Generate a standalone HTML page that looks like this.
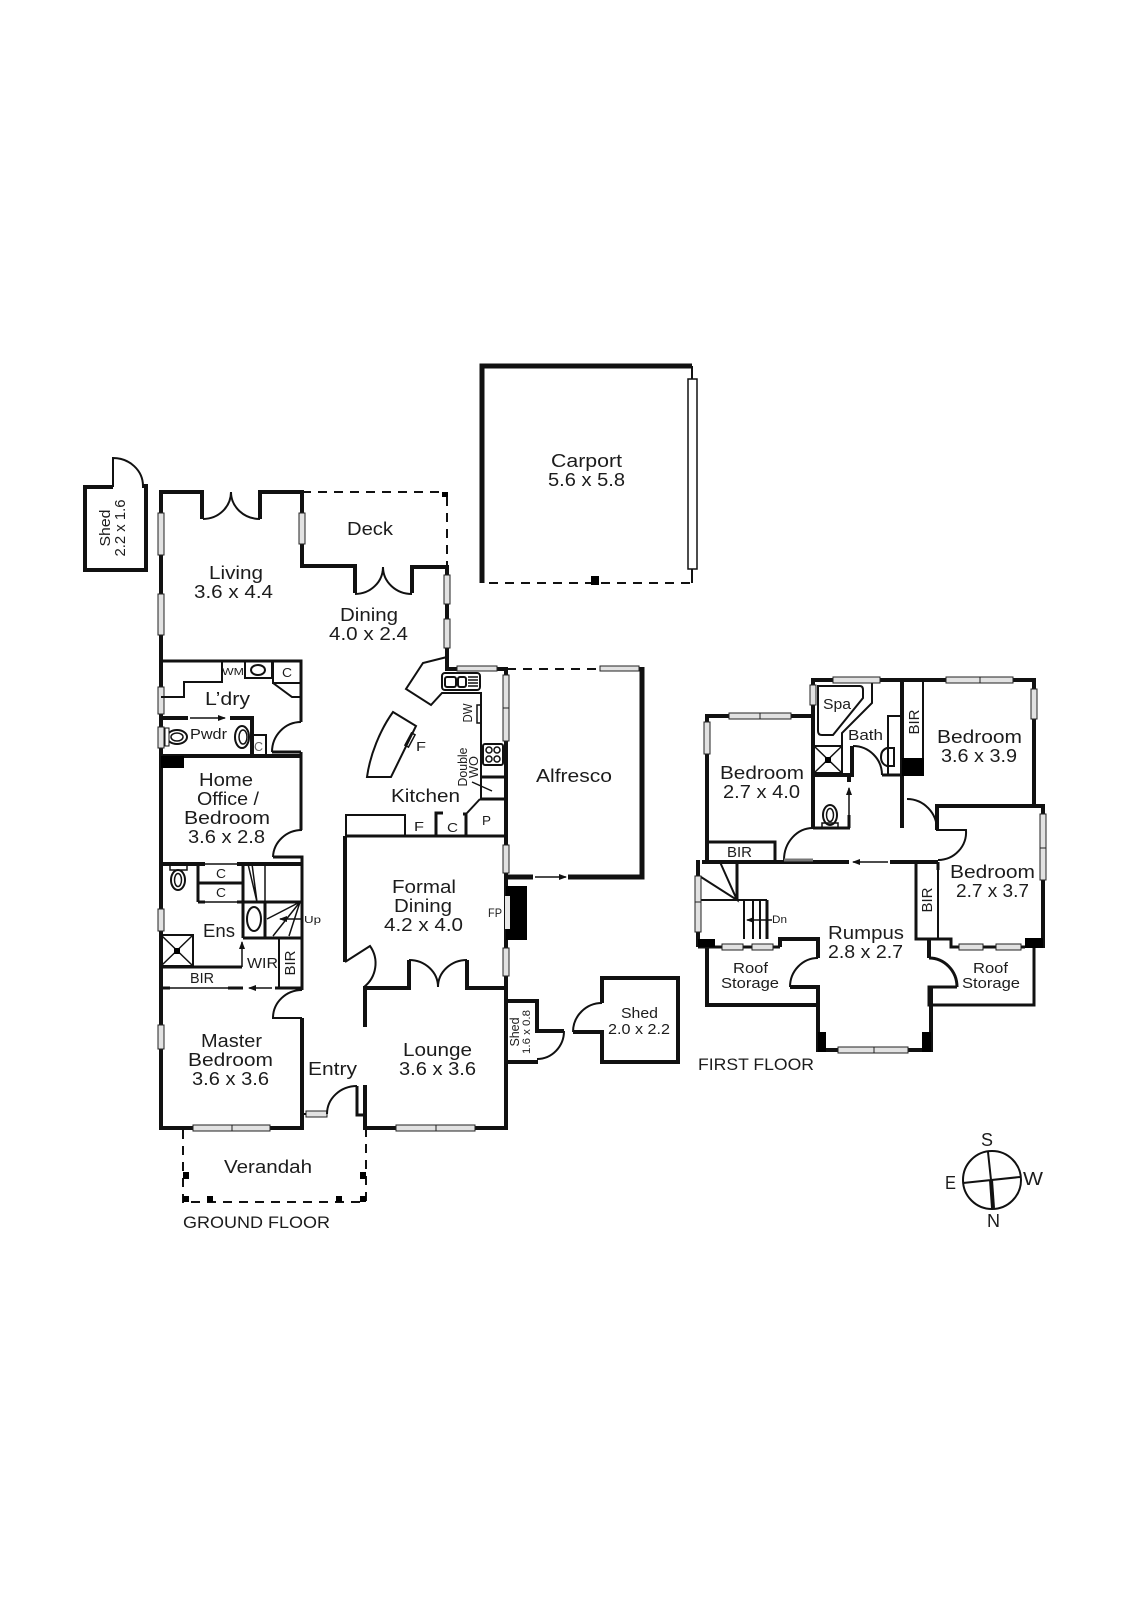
<!DOCTYPE html>
<html><head><meta charset="utf-8"><style>
html,body{margin:0;padding:0;background:#fff}
svg{display:block}
text{font-family:"Liberation Sans",sans-serif;fill:#1c1c1c;font-size:18px}
.s{font-size:15px}.x{font-size:13px}.xx{font-size:10px}
.w,.m,.t,.h{fill:none;stroke:#111}
.w{stroke-width:4}.m{stroke-width:3}.t{stroke-width:2}.h{stroke-width:1.5}
.d{fill:none;stroke:#111;stroke-width:2;stroke-dasharray:9 7}
.win{fill:#e2e2e2;stroke:#222;stroke-width:1}
.b{fill:#000}
</style></head><body>
<svg width="1131" height="1600" viewBox="0 0 1131 1600" xmlns="http://www.w3.org/2000/svg">
<defs>
<marker id="a" markerUnits="userSpaceOnUse" markerWidth="8" markerHeight="6" refX="7" refY="3" orient="auto"><path d="M0 0L8 3L0 6z" fill="#111"/></marker>
</defs>

<!-- Carport -->
<path class="w" style="stroke-width:5" d="M482 583V366H692"/>
<path class="t" d="M692 366V379M692 569V583"/>
<path class="d" d="M489 583H692"/>
<rect x="688" y="379" width="9" height="190" fill="#fff" stroke="#111" stroke-width="1.5"/>
<rect class="b" x="591" y="576" width="8" height="9"/>

<!-- Shed 2.2 x 1.6 -->
<path class="w" d="M113 487H85V570H146V486H142"/>
<path class="t" d="M113 487V458A30 28 0 0 1 143 486"/>

<!-- Ground: outer left, living -->
<path class="w" d="M161 1130V492H202V519M260 519V492H302V566H355V593M412 593V567H447V669H506V1128H365V1085M302 1018V1128H159"/>
<path class="t" d="M203 519A28 27 0 0 0 231 492M260 519A29 27 0 0 1 231 492M355 594A28 27 0 0 0 383 567M412 594A29 27 0 0 1 383 567"/>
<path class="d" d="M302 492H443M447 497V566M507 669H600"/>
<rect class="b" x="442" y="492" width="6" height="5"/>

<!-- Windows left wall -->
<rect class="win" x="158" y="513" width="6" height="42"/>
<rect class="win" x="158" y="594" width="6" height="41"/>
<rect class="win" x="158" y="687" width="6" height="27"/>
<rect class="win" x="158" y="727" width="6" height="21"/>
<rect class="win" x="158" y="909" width="6" height="22"/>
<rect class="win" x="158" y="1025" width="6" height="24"/>
<rect class="win" x="299" y="513" width="6" height="31"/>
<rect class="win" x="444" y="575" width="6" height="29"/>
<rect class="win" x="444" y="619" width="6" height="29"/>
<rect class="win" x="457" y="666" width="40" height="5"/>
<rect class="win" x="503" y="675" width="6" height="33"/>
<rect class="win" x="503" y="708" width="6" height="33"/>
<rect class="win" x="503" y="845" width="6" height="28"/>
<rect class="win" x="503" y="948" width="6" height="28"/>
<rect class="win" x="600" y="666" width="39" height="5"/>
<rect class="win" x="193" y="1125" width="39" height="6"/><rect class="win" x="232" y="1125" width="38" height="6"/>
<rect class="win" x="396" y="1125" width="40" height="6"/><rect class="win" x="436" y="1125" width="39" height="6"/>
<rect class="win" x="306" y="1111" width="21" height="6"/>

<!-- Alfresco -->
<path class="w" style="stroke-width:5" d="M642 667V877H568M533 877H506"/>
<path class="h" d="M535 877H566" marker-end="url(#a)"/>

<!-- Laundry -->
<path class="m" d="M161 661H301V722M272 752H301"/>
<path class="t" d="M301 722A29 30 0 0 0 272 752"/>
<path class="t" d="M222 661V682H184V697H161M245 661V678H272V661M273 661V683H301M273 683L292 697H301"/>
<ellipse cx="258" cy="670" rx="7" ry="5" class="t"/>
<text class="xx" x="222" y="675" textLength="22" lengthAdjust="spacingAndGlyphs">WM</text>
<text class="x" x="282" y="677" textLength="10" lengthAdjust="spacingAndGlyphs">C</text>
<text class="" x="205" y="705" textLength="45" lengthAdjust="spacingAndGlyphs">L’dry</text>
<path class="w" d="M161 718H188M230 718H252V756"/>
<path class="h" d="M190 718H225" marker-end="url(#a)"/>
<path class="w" d="M161 756H302"/>
<path class="t" d="M252 735H266V756"/>
<rect class="b" x="161" y="756" width="23" height="12"/>
<ellipse cx="177" cy="737" rx="10" ry="7" class="t"/><ellipse cx="177" cy="737" rx="6" ry="4" class="h"/>
<rect x="165" y="728" width="4" height="18" fill="#fff" stroke="#111"/>
<ellipse cx="242" cy="737" rx="7" ry="11" class="t"/><ellipse cx="243" cy="737" rx="4" ry="7" class="h"/>
<text class="s" x="190" y="739" textLength="37" lengthAdjust="spacingAndGlyphs">Pwdr</text>
<text class="x" x="254" y="751" textLength="9" lengthAdjust="spacingAndGlyphs" style="fill:#666">C</text>

<!-- Home office -->
<path class="m" d="M301 752V830M273 857H302V866"/>
<path class="t" d="M302 830A29 28 0 0 0 273 857"/>

<!-- Ens / WIR -->
<path class="w" d="M161 864H205M237 864H302"/>
<path class="h" d="M205 864H237"/>
<path class="m" d="M198 864V902M198 883H242M198 902H205M237 902H302M243 864V938M302 857V990M243 938H302M265 902V938"/>
<path class="h" d="M205 902H237M265 864V902M248 864L257 902M252 864L257 902"/>
<ellipse cx="254" cy="919" rx="7" ry="12" class="t"/>
<text class="x" x="216" y="878" textLength="10" lengthAdjust="spacingAndGlyphs">C</text>
<text class="x" x="216" y="897" textLength="10" lengthAdjust="spacingAndGlyphs">C</text>
<path class="h" d="M300 902L267 919M300 902L273 936M300 902L289 936"/>
<path class="h" d="M303 919H280" marker-end="url(#a)"/>
<text class="xx" x="304" y="923" textLength="17" lengthAdjust="spacingAndGlyphs">Up</text>
<rect x="161" y="935" width="32" height="31" class="t"/>
<path class="h" d="M161 935L193 966M193 935L161 966"/>
<rect class="b" x="174" y="948" width="6" height="6"/>
<text x="203" y="937" textLength="32" lengthAdjust="spacingAndGlyphs">Ens</text>
<ellipse cx="178" cy="880" rx="7" ry="10" class="t"/><ellipse cx="178" cy="880" rx="3.5" ry="6.5" class="h"/>
<rect x="170" y="865" width="17" height="5" fill="#fff" class="h"/>
<path class="m" d="M161 967H242"/>
<path class="h" d="M161 988H228"/>
<path class="h" d="M242 967V942" marker-end="url(#a)"/>
<path class="m" d="M228 988H243M161 988H170"/>
<path class="m" d="M275 988H302"/>
<path class="h" d="M272 988H249" marker-end="url(#a)"/>
<path class="t" d="M279 938V988"/>
<text class="x" x="190" y="983" textLength="24" lengthAdjust="spacingAndGlyphs" style="font-size:15px">BIR</text>
<text class="s" x="247" y="968" textLength="31" lengthAdjust="spacingAndGlyphs">WIR</text>
<text class="s" transform="rotate(-90 295 963)" x="295" y="963" text-anchor="middle" textLength="25" lengthAdjust="spacingAndGlyphs">BIR</text>

<!-- Master door -->
<path class="t" d="M302 990A29 28 0 0 0 273 1018H302"/>
<!-- Entry -->
<path class="t" d="M302 1114H306M327 1114A30 28 0 0 1 357 1086"/>
<path class="m" d="M357 1086V1115H365"/>
<!-- Verandah -->
<path class="d" d="M183 1130V1202H366V1130"/>
<rect class="b" x="183" y="1172" width="6" height="7"/><rect class="b" x="183" y="1196" width="6" height="6"/>
<rect class="b" x="207" y="1196" width="6" height="6"/><rect class="b" x="336" y="1196" width="6" height="6"/>
<rect class="b" x="360" y="1196" width="6" height="6"/><rect class="b" x="360" y="1172" width="6" height="7"/>

<!-- Kitchen -->
<path class="t" d="M447 657L423 663L406 689L431 705L442 693H481V798"/>
<rect x="442" y="673" width="38" height="17" rx="3" fill="#fff" class="t"/>
<rect x="445" y="677" width="11" height="10" rx="2" class="t"/><rect x="458" y="677" width="8" height="10" rx="2" class="t"/>
<path class="h" d="M468 677H478M468 680H478M468 683H478M468 686H478"/>
<rect x="477" y="705" width="4" height="18" fill="#fff" class="h"/>
<rect x="483" y="744" width="20" height="21" rx="2" fill="#fff" class="t"/>
<circle cx="489" cy="750" r="3" class="h"/><circle cx="497" cy="750" r="3" class="h"/><circle cx="489" cy="759" r="3" class="h"/><circle cx="497" cy="759" r="3" class="h"/>
<path class="m" d="M481 777H505M480 799H505"/>
<path class="t" d="M480 799L467 813"/>
<path class="h" d="M472 782L492 791"/>
<path class="m" d="M466 813V836M436 836V813H443M346 836H506"/>
<path class="t" d="M346 836V815H405V836"/>
<path class="m" d="M463 814H467"/>
<path class="t" d="M393 712L416 726L391 777H367C370 755 380 730 393 712Z"/>
<rect x="408" y="733" width="4" height="14" fill="#fff" class="h" transform="rotate(28 410 740)"/>
<text class="x" x="416" y="751" textLength="10" lengthAdjust="spacingAndGlyphs">F</text>
<text x="391" y="802" textLength="69" lengthAdjust="spacingAndGlyphs">Kitchen</text>
<text class="x" x="414" y="831" textLength="10" lengthAdjust="spacingAndGlyphs">F</text>
<text class="x" x="447" y="832" textLength="11" lengthAdjust="spacingAndGlyphs">C</text>
<text class="x" x="482" y="825" textLength="9" lengthAdjust="spacingAndGlyphs">P</text>
<text class="x" transform="rotate(-90 472 713)" x="472" y="713" text-anchor="middle" textLength="19" lengthAdjust="spacingAndGlyphs">DW</text>
<text class="x" transform="rotate(-90 467 767)" x="467" y="767" text-anchor="middle" textLength="39" lengthAdjust="spacingAndGlyphs">Double</text>
<text class="x" transform="rotate(-90 478 767)" x="478" y="767" text-anchor="middle" textLength="22" lengthAdjust="spacingAndGlyphs">WO</text>

<!-- Formal dining -->
<path class="w" d="M345 836V962"/>
<path class="t" d="M345 962L370 946A30 30 0 0 1 364 987"/>
<path class="w" d="M365 1027V988H409V960M467 960V988H506"/>
<path class="t" d="M409 960A29 27 0 0 1 438 987M467 960A29 27 0 0 0 438 987"/>
<rect class="b" x="506" y="886" width="21" height="54"/>
<rect x="505" y="896" width="5" height="33" fill="#e8e8e8"/>
<text class="xx" x="488" y="917" textLength="14" lengthAdjust="spacingAndGlyphs" style="font-size:12px">FP</text>

<!-- Small shed -->
<path class="w" d="M506 1001H537V1031H564"/>
<path class="t" d="M564 1031A27 28 0 0 1 537 1059"/>
<path class="w" d="M506 1062H538"/>
<text class="x" transform="rotate(-90 519 1032)" x="519" y="1032" text-anchor="middle" textLength="29" lengthAdjust="spacingAndGlyphs">Shed</text>
<text class="xx" transform="rotate(-90 530 1032)" x="530" y="1032" text-anchor="middle" textLength="44" lengthAdjust="spacingAndGlyphs" style="font-size:11px">1.6 x 0.8</text>

<!-- Shed 2.0 -->
<path class="w" d="M602 1003V978H678V1062H602V1032H573"/>
<path class="t" d="M602 1003A29 29 0 0 0 573 1032"/>

<!-- Ground labels -->
<text class="s" transform="rotate(-90 110 528)" x="110" y="528" text-anchor="middle" textLength="37" lengthAdjust="spacingAndGlyphs">Shed</text>
<text class="s" transform="rotate(-90 125 528)" x="125" y="528" text-anchor="middle" textLength="57" lengthAdjust="spacingAndGlyphs">2.2 x 1.6</text>
<text x="209" y="579" textLength="54" lengthAdjust="spacingAndGlyphs">Living</text>
<text x="194" y="598" textLength="79" lengthAdjust="spacingAndGlyphs">3.6 x 4.4</text>
<text x="347" y="535" textLength="46" lengthAdjust="spacingAndGlyphs">Deck</text>
<text x="340" y="621" textLength="58" lengthAdjust="spacingAndGlyphs">Dining</text>
<text x="329" y="640" textLength="79" lengthAdjust="spacingAndGlyphs">4.0 x 2.4</text>
<text x="551" y="467" textLength="71" lengthAdjust="spacingAndGlyphs">Carport</text>
<text x="548" y="486" textLength="77" lengthAdjust="spacingAndGlyphs">5.6 x 5.8</text>
<text x="536" y="782" textLength="76" lengthAdjust="spacingAndGlyphs">Alfresco</text>
<text x="199" y="786" textLength="54" lengthAdjust="spacingAndGlyphs">Home</text>
<text x="197" y="805" textLength="62" lengthAdjust="spacingAndGlyphs">Office /</text>
<text x="184" y="824" textLength="86" lengthAdjust="spacingAndGlyphs">Bedroom</text>
<text x="188" y="843" textLength="77" lengthAdjust="spacingAndGlyphs">3.6 x 2.8</text>
<text x="392" y="893" textLength="64" lengthAdjust="spacingAndGlyphs">Formal</text>
<text x="394" y="912" textLength="58" lengthAdjust="spacingAndGlyphs">Dining</text>
<text x="384" y="931" textLength="79" lengthAdjust="spacingAndGlyphs">4.2 x 4.0</text>
<text x="201" y="1047" textLength="61" lengthAdjust="spacingAndGlyphs">Master</text>
<text x="188" y="1066" textLength="85" lengthAdjust="spacingAndGlyphs">Bedroom</text>
<text x="192" y="1085" textLength="77" lengthAdjust="spacingAndGlyphs">3.6 x 3.6</text>
<text x="308" y="1075" textLength="49" lengthAdjust="spacingAndGlyphs">Entry</text>
<text x="403" y="1056" textLength="69" lengthAdjust="spacingAndGlyphs">Lounge</text>
<text x="399" y="1075" textLength="77" lengthAdjust="spacingAndGlyphs">3.6 x 3.6</text>
<text x="224" y="1173" textLength="88" lengthAdjust="spacingAndGlyphs">Verandah</text>
<text x="183" y="1228" textLength="147" lengthAdjust="spacingAndGlyphs" style="font-size:17px">GROUND FLOOR</text>
<text class="s" x="621" y="1018" textLength="37" lengthAdjust="spacingAndGlyphs">Shed</text>
<text class="s" x="608" y="1034" textLength="62" lengthAdjust="spacingAndGlyphs">2.0 x 2.2</text>

<!-- First floor walls -->
<path class="w" d="M707 862V716H813M813 828V680H1034V806M937 830V806H1043V948M702 862H849M890 862H938"/>
<path class="h" d="M888 862H853" marker-end="url(#a)"/>
<path class="w" d="M902 680V828"/>
<path class="w" d="M813 775H852V746"/>
<path class="m" d="M882 775H902M813 828H850M849 815V828"/>
<path class="t" d="M853 746A29 29 0 0 1 882 775"/>
<path class="h" d="M849 815V788" marker-end="url(#a)"/>
<path class="w" d="M849 775V782"/>
<path class="t" d="M872 680V703L842 733V773M923 680V775M888 775V716H901"/>
<path class="t" d="M818 686H860Q863 686 863 690V698L833 735H822Q818 735 818 731Z"/>
<rect x="814" y="746" width="28" height="27" class="t"/>
<path class="h" d="M814 746L842 773M842 746L814 773"/>
<rect class="b" x="825" y="757" width="6" height="6"/>
<path d="M894 748H887Q881 750 881 757Q881 764 887 766H894Z" fill="#fff" class="t"/>
<rect class="b" x="902" y="758" width="22" height="18"/>
<ellipse cx="830" cy="815" rx="7" ry="10" class="t"/><ellipse cx="830" cy="815" rx="3.5" ry="6.5" class="h"/>
<rect x="822" y="823" width="16" height="5" fill="#fff" class="h"/>
<path class="t" d="M813 828A29 32 0 0 0 784 860"/>
<path class="m" d="M784 860H813" style="stroke:#777"/>
<path class="m" d="M707 842H775V862"/>
<path class="t" d="M907 799A30 31 0 0 1 937 830H966A28 28 0 0 1 938 860"/>
<path class="m" d="M938 862V870"/>
<path class="t" d="M938 870V938"/>
<path class="m" d="M916 862V939H951V947H1025"/>
<path class="w" d="M698 860V947M780 947V939H818V958M929 939V958"/>
<path class="m" d="M698 947H780M1034 948V1005H929V987H957M957 987A28 29 0 0 0 929 958"/>
<path class="w" d="M707 947V1005H818V987H790"/>
<path class="t" d="M790 987A28 29 0 0 1 818 958"/>
<path class="w" d="M818 1005V1050H931V987"/>
<rect class="b" x="818" y="1032" width="8" height="20"/><rect class="b" x="922" y="1032" width="9" height="20"/>
<rect class="b" x="1025" y="938" width="18" height="10"/>
<rect class="b" x="698" y="939" width="17" height="8"/>
<path class="m" d="M737 862V900"/>
<path class="t" d="M720 862L737 900L701 877M700 900H767M744 900V939M753 900V939M760 900V939"/>
<path class="m" d="M767 900V939"/>
<path class="h" d="M772 920H747" marker-end="url(#a)"/>

<!-- FF windows -->
<rect class="win" x="729" y="713" width="31" height="6"/><rect class="win" x="760" y="713" width="31" height="6"/>
<rect class="win" x="704" y="722" width="6" height="32"/>
<rect class="win" x="833" y="677" width="47" height="6"/>
<rect class="win" x="810" y="685" width="6" height="20"/>
<rect class="win" x="946" y="677" width="34" height="6"/><rect class="win" x="980" y="677" width="33" height="6"/>
<rect class="win" x="1031" y="689" width="6" height="30"/>
<rect class="win" x="1040" y="814" width="6" height="34"/><rect class="win" x="1040" y="848" width="6" height="32"/>
<rect class="win" x="695" y="876" width="6" height="26"/><rect class="win" x="695" y="902" width="6" height="30"/>
<rect class="win" x="722" y="944" width="21" height="6"/><rect class="win" x="752" y="944" width="21" height="6"/>
<rect class="win" x="959" y="944" width="24" height="6"/><rect class="win" x="996" y="944" width="25" height="6"/>
<rect class="win" x="838" y="1047" width="36" height="6"/><rect class="win" x="874" y="1047" width="34" height="6"/>

<!-- FF labels -->
<text class="s" x="823" y="709" textLength="28" lengthAdjust="spacingAndGlyphs">Spa</text>
<text class="s" x="848" y="740" textLength="35" lengthAdjust="spacingAndGlyphs">Bath</text>
<text class="s" transform="rotate(-90 919 722)" x="919" y="722" text-anchor="middle" textLength="25" lengthAdjust="spacingAndGlyphs">BIR</text>
<text x="937" y="743" textLength="85" lengthAdjust="spacingAndGlyphs">Bedroom</text>
<text x="941" y="762" textLength="76" lengthAdjust="spacingAndGlyphs">3.6 x 3.9</text>
<text x="720" y="779" textLength="84" lengthAdjust="spacingAndGlyphs">Bedroom</text>
<text x="723" y="798" textLength="77" lengthAdjust="spacingAndGlyphs">2.7 x 4.0</text>
<text class="s" x="727" y="857" textLength="25" lengthAdjust="spacingAndGlyphs">BIR</text>
<text x="950" y="878" textLength="85" lengthAdjust="spacingAndGlyphs">Bedroom</text>
<text x="956" y="897" textLength="73" lengthAdjust="spacingAndGlyphs">2.7 x 3.7</text>
<text class="s" transform="rotate(-90 932 900)" x="932" y="900" text-anchor="middle" textLength="25" lengthAdjust="spacingAndGlyphs">BIR</text>
<text x="828" y="939" textLength="76" lengthAdjust="spacingAndGlyphs">Rumpus</text>
<text x="828" y="958" textLength="75" lengthAdjust="spacingAndGlyphs">2.8 x 2.7</text>
<text class="xx" x="772" y="923" textLength="15" lengthAdjust="spacingAndGlyphs" style="font-size:11px">Dn</text>
<text class="s" x="733" y="973" textLength="35" lengthAdjust="spacingAndGlyphs">Roof</text>
<text class="s" x="721" y="988" textLength="58" lengthAdjust="spacingAndGlyphs">Storage</text>
<text class="s" x="973" y="973" textLength="35" lengthAdjust="spacingAndGlyphs">Roof</text>
<text class="s" x="962" y="988" textLength="58" lengthAdjust="spacingAndGlyphs">Storage</text>
<text x="698" y="1070" textLength="116" lengthAdjust="spacingAndGlyphs" style="font-size:17px">FIRST FLOOR</text>

<!-- Compass -->
<circle cx="992" cy="1180" r="29" class="t"/>
<path class="t" d="M988 1152L991 1180M963 1183L1020 1177"/>
<path d="M991 1180L993 1208" fill="none" stroke="#111" stroke-width="4"/>
<text x="981" y="1146" textLength="12" lengthAdjust="spacingAndGlyphs">S</text>
<text x="945" y="1189" textLength="11" lengthAdjust="spacingAndGlyphs">E</text>
<text x="1023" y="1185" textLength="20" lengthAdjust="spacingAndGlyphs">W</text>
<text x="987" y="1227" textLength="13" lengthAdjust="spacingAndGlyphs">N</text>
</svg>
</body></html>
